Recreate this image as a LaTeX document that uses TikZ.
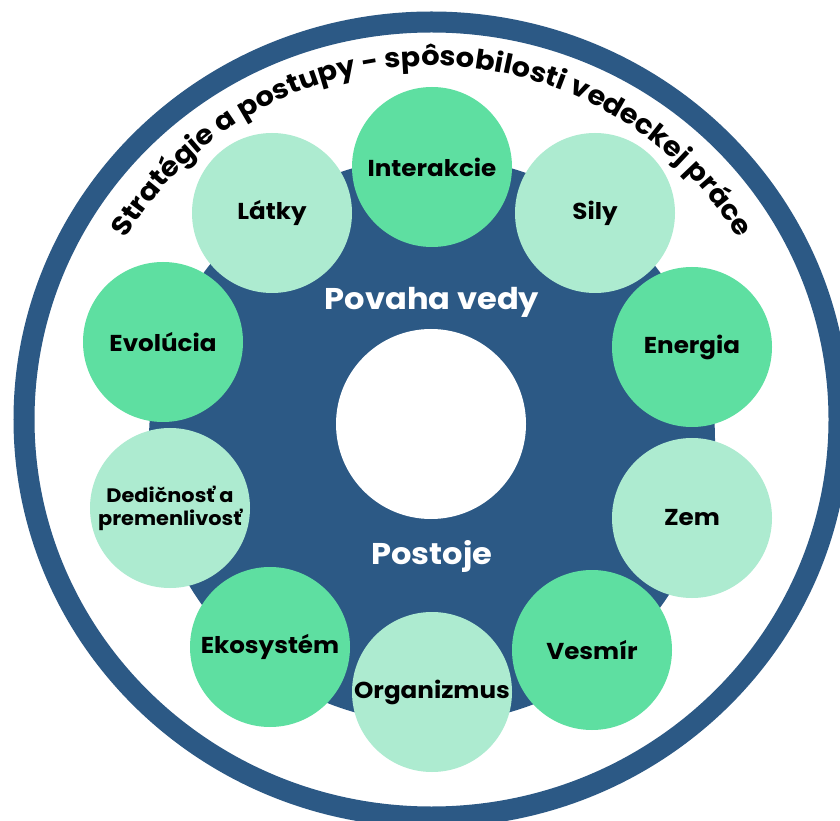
\documentclass[tikz,border=0pt]{standalone}
\usepackage{fontspec}
\setmainfont{Poppins}[FakeStretch=1.07]
\usetikzlibrary{decorations.text}
\definecolor{navy}{HTML}{2C5985}
\definecolor{dgreen}{HTML}{5EDFA1}
\definecolor{lgreen}{HTML}{ADEBD0}
\tikzset{
  bubble/.style={circle, minimum size=160pt, inner sep=0pt, align=center, text=black,
    font=\bfseries\fontsize{23}{27}\selectfont},
  dark/.style={bubble, fill=dgreen},
  light/.style={bubble, fill=lgreen},
  inner/.style={text=white, anchor=base, font=\bfseries\fontsize{30}{33}\selectfont}
}
\begin{document}
\begin{tikzpicture}[x=1pt,y=1pt]
\useasboundingbox (0,0) rectangle (840,820);
\clip (0,0) rectangle (840,820);
\fill[white] (0,0) rectangle (840,820);
\draw[navy, line width=21pt] (431.5,400.5) ellipse [x radius=407.5, y radius=397.5];
\fill[navy] (432,380) circle[radius=283];
\fill[white] (431,396) circle[radius=95];
\path[decorate, decoration={text along path, text align=center,
  text={|\bfseries\fontsize{27}{27}\selectfont|Stratégie a postupy - spôsobilosti vedeckej práce}}]
  (432,396) ++(152:358) arc[start angle=152, end angle=28, radius=358];
\node[dark]  (interakcie) at (432,653) {Interakcie};
\node[light] (latky)      at (272,607) {Látky};
\node[light] (sily)       at (595,607) {Sily};
\node[dark]  (evolucia)   at (163,478) {Evolúcia};
\node[dark]  (energia)    at (692,473) {Energia};
\node[light, font=\bfseries\fontsize{19.5}{23}\selectfont] (dedicnost) at (170,312) {Dedičnosť a\\premenlivosť};
\node[light] (zem)        at (692,302) {Zem};
\node[dark]  (ekosystem)  at (270,173) {Ekosystém};
\node[dark]  (vesmir)     at (592,170) {Vesmír};
\node[light] (organizmus) at (432,128) {Organizmus};
\node[inner] (povaha) at (432,510) {Povaha vedy};
\node[inner] (postoje) at (432,256) {Postoje};
\end{tikzpicture}
\end{document}
